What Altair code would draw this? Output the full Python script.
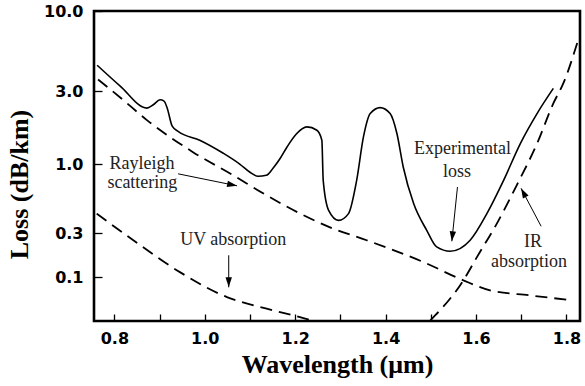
import altair as alt
import pandas as pd

# ---------------- data ----------------
# Experimental loss (solid curve)
exp_wl = [0.762, 0.813, 0.872, 0.886, 0.901, 0.910, 0.917, 0.928, 0.941, 0.990,
          1.041, 1.078, 1.100, 1.118, 1.136, 1.151, 1.167, 1.182, 1.202, 1.226,
          1.248, 1.259, 1.262, 1.274, 1.296, 1.318, 1.336, 1.351, 1.366, 1.388,
          1.410, 1.425, 1.439, 1.462, 1.491, 1.513, 1.543, 1.587, 1.624, 1.661,
          1.698, 1.735, 1.771]
exp_loss = [4.42, 3.23, 2.32, 2.44, 2.63, 2.58, 2.32, 1.77, 1.64, 1.43,
            1.18, 1.0, 0.870, 0.811, 0.825, 0.933, 1.094, 1.297, 1.569, 1.751,
            1.666, 1.434, 0.756, 0.448, 0.376, 0.423, 0.756, 1.507, 2.14, 2.34,
            2.14, 1.586, 0.954, 0.504, 0.316, 0.213, 0.191, 0.252, 0.423, 0.756,
            1.365, 2.14, 3.12]

# Rayleigh scattering (dashed)
ray_wl = [0.764, 0.817, 0.872, 0.974, 1.063, 1.129, 1.211, 1.277, 1.358, 1.483,
          1.572, 1.631, 1.720, 1.801]
ray_loss = [3.57, 2.66, 1.94, 1.20, 0.825, 0.603, 0.423, 0.333, 0.252, 0.146,
            0.092, 0.0716, 0.0631, 0.0566]

# UV absorption (dashed)
uv_wl = [0.761, 0.842, 0.945, 1.049, 1.137, 1.196, 1.240]
uv_loss = [0.423, 0.252, 0.113, 0.0605, 0.0452, 0.0382, 0.0334]

# IR absorption (dashed)
ir_wl = [1.499, 1.572, 1.602, 1.646, 1.690, 1.735, 1.771, 1.793, 1.827]
ir_loss = [0.0337, 0.092, 0.165, 0.355, 0.693, 1.365, 2.49, 3.36, 6.61]

# Axis ticks
x_ticks = [0.8, 0.9, 1.0, 1.1, 1.2, 1.3, 1.4, 1.5, 1.6, 1.7, 1.8]
y_ticks = [0.1, 0.3, 1.0, 3.0, 10.0]
y_breaks = [0.033, 0.1, 0.3, 1.0, 3.0, 10.0]

# Annotation labels
label_text = ["Rayleigh", "scattering", "UV absorption", "Experimental", "loss", "IR", "absorption"]
label_wl = [0.861, 0.862, 1.063, 1.570, 1.558, 1.726, 1.717]
label_loss = [0.9165, 0.658, 0.2219, 1.162, 0.801, 0.211, 0.1276]

# Arrows: start point -> tip
arrow_wl = [0.941, 1.053, 1.559, 1.744]
arrow_loss = [0.847, 0.1726, 0.673, 0.339]
arrow_tip_wl = [1.0715, 1.053, 1.5465, 1.6996]
arrow_tip_loss = [0.687, 0.0772, 0.2454, 0.658]
arrow_angle = [101.5, 180, 186, 332]

# ---------------- frames ----------------
def series(name, wl, loss):
    return pd.DataFrame({"series": name, "wl": wl, "loss": loss})

solid_df = series("Experimental loss", exp_wl, exp_loss)
dashed_df = pd.concat([
    series("Rayleigh scattering", ray_wl, ray_loss),
    series("UV absorption", uv_wl, uv_loss),
    series("IR absorption", ir_wl, ir_loss),
])
labels_df = pd.DataFrame({"text": label_text, "wl": label_wl, "loss": label_loss})
arrows_df = pd.DataFrame({"wl": arrow_wl, "loss": arrow_loss,
                          "wl2": arrow_tip_wl, "loss2": arrow_tip_loss})
heads_df = pd.DataFrame({"wl": arrow_tip_wl, "loss": arrow_tip_loss, "angle": arrow_angle})

# ---------------- scales / axes ----------------
X_SCALE = alt.Scale(domain=[0.755, 1.830], nice=False, zero=False)
Y_SCALE = alt.Scale(type="log", domain=y_breaks,
                    range=[310.3, 266, 222.3, 153.3, 80, 0], nice=False)

X_AXIS = alt.Axis(
    values=x_ticks,
    labelExpr="round(datum.value*10) % 2 == 0 ? format(datum.value, '.1f') : ''",
    tickSize=7, offset=-7, domain=False, grid=False,
    labelPadding=9, labelFont="DejaVu Sans", labelFontWeight="bold",
    labelFontSize=16, labelColor="black", labelOverlap=False, labelFlush=False,
    tickColor="black", tickWidth=1.3,
    title="Wavelength (μm)", titleFont="Liberation Serif", titleFontSize=26,
    titleFontWeight="bold", titleColor="black", titleBaseline="alphabetic",
    titleY=58,
)
Y_AXIS = alt.Axis(
    values=y_ticks,
    labelExpr="format(datum.value, '.1f')",
    tickSize=8, offset=-8, domain=False, grid=False,
    labelPadding=11, labelFont="DejaVu Sans", labelFontWeight="bold",
    labelFontSize=16, labelColor="black", labelOverlap=False, labelFlush=False,
    tickColor="black", tickWidth=1.3,
    title="Loss (dB/km)", titleFont="Liberation Serif", titleFontSize=26,
    titleFontWeight="bold", titleColor="black", titleBaseline="alphabetic",
    titleAngle=270, titleAlign="center", titleX=-74.7, titleY=173,
)


def X(field="wl"):
    return alt.X(f"{field}:Q", scale=X_SCALE, axis=X_AXIS)


def Y(field="loss"):
    return alt.Y(f"{field}:Q", scale=Y_SCALE, axis=Y_AXIS)


solid = alt.Chart(solid_df).mark_line(
    color="black", strokeWidth=1.6, interpolate="monotone"
).encode(x=X(), y=Y(), order="wl:Q")

dashed = alt.Chart(dashed_df).mark_line(
    color="black", strokeWidth=1.8, strokeDash=[12, 7], interpolate="monotone"
).encode(x=X(), y=Y(), detail="series:N", order="wl:Q")

arrow_lines = alt.Chart(arrows_df).mark_rule(color="black", strokeWidth=1).encode(
    x=X(), y=Y(), x2=alt.X2("wl2"), y2=alt.Y2("loss2")
)

heads = alt.Chart(heads_df).mark_point(
    shape="M0,0 L-0.32,1 L0.32,1 Z", filled=True, color="black",
    opacity=1, size=400, strokeWidth=0
).encode(x=X(), y=Y(), angle=alt.Angle("angle:Q", scale=None))

texts = alt.Chart(labels_df).mark_text(
    font="Liberation Serif", fontSize=18, color="#222222",
    align="center", baseline="alphabetic"
).encode(x=X(), y=Y(), text="text:N")

chart = alt.layer(solid, dashed, arrow_lines, heads, texts).properties(
    width=486, height=310,
    autosize=alt.AutoSizeParams(type="none"),
    padding={"left": 94, "right": 5, "top": 11, "bottom": 65},
    background="white",
).configure_view(
    stroke="black", strokeWidth=2.6
)

chart.save("out.html", embed_options={"renderer": "svg", "actions": False})
